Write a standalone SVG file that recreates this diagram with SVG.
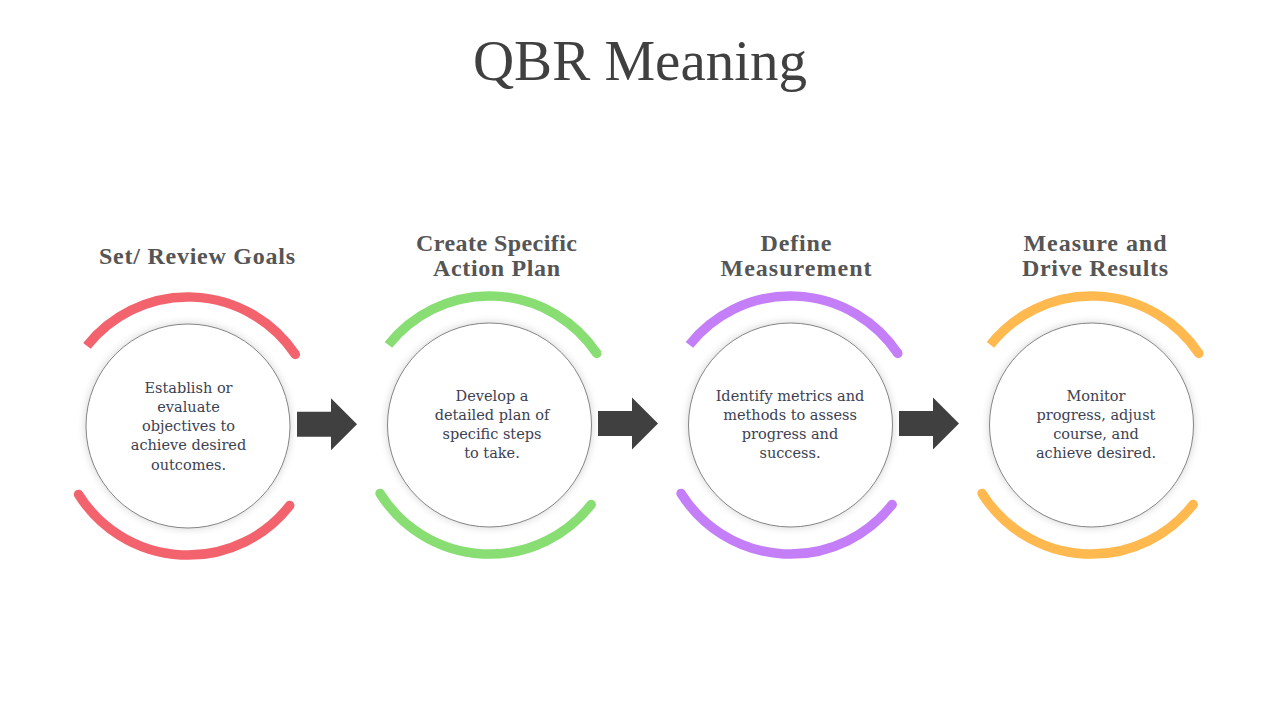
<svg xmlns="http://www.w3.org/2000/svg" width="1280" height="720" viewBox="0 0 1280 720">
  <defs>
    <filter id="glow" x="-20%" y="-20%" width="140%" height="140%">
      <feGaussianBlur in="SourceAlpha" stdDeviation="4"/>
      <feComponentTransfer><feFuncA type="linear" slope="0.18"/></feComponentTransfer>
      <feMerge><feMergeNode/><feMergeNode in="SourceGraphic"/></feMerge>
    </filter>
    <style>
      .title{font-family:"Liberation Serif",serif;font-size:57px;fill:#404040;text-anchor:middle}
      .head{font-family:"Liberation Serif",serif;font-size:24px;font-weight:bold;fill:#555555;text-anchor:middle}
      .body{font-family:"DejaVu Serif",serif;font-size:14.5px;fill:#3d4152;text-anchor:middle}
      .disc{fill:#ffffff;stroke:#666666;stroke-width:0.8;filter:url(#glow)}
      .top{fill:none;stroke-width:9.5;stroke-linecap:butt}
      .bot{fill:none;stroke-width:9.5;stroke-linecap:round}
      .arrow{fill:#404040}
    </style>
  </defs>
  <rect width="1280" height="720" fill="#ffffff"/>
  <text class="title" x="640" y="80">QBR Meaning</text>

  <g id="node1">
    <text class="head" x="197" y="264" textLength="196" lengthAdjust="spacing">Set/ Review Goals</text>
    <g transform="translate(188,426)">
      <path class="top" stroke="#F3636E" d="M -101.1,-80.1 A 129 129 0 0 1 107.3,-71.6"/>
      <circle cx="107.3" cy="-71.6" r="4.75" fill="#F3636E"/>
      <path class="bot" stroke="#F3636E" d="M 101.7,79.5 A 129 129 0 0 1 -109.4,68.4"/>
      <circle class="disc" r="102"/>
    </g>
    <text class="body" x="188.5" y="392.5">Establish or</text>
    <text class="body" x="188.5" y="411.7">evaluate</text>
    <text class="body" x="188.5" y="431">objectives to</text>
    <text class="body" x="188.5" y="450.2">achieve desired</text>
    <text class="body" x="188.5" y="469.5">outcomes.</text>
  </g>

  <g id="node2">
    <text class="head" x="496.5" y="251" textLength="161" lengthAdjust="spacing">Create Specific</text>
    <text class="head" x="496.5" y="276" textLength="127" lengthAdjust="spacing">Action Plan</text>
    <g transform="translate(489.5,425)">
      <path class="top" stroke="#88DD73" d="M -101.1,-80.1 A 129 129 0 0 1 107.3,-71.6"/>
      <circle cx="107.3" cy="-71.6" r="4.75" fill="#88DD73"/>
      <path class="bot" stroke="#88DD73" d="M 101.7,79.5 A 129 129 0 0 1 -109.4,68.4"/>
      <circle class="disc" r="102"/>
    </g>
    <text class="body" x="492" y="401">Develop a</text>
    <text class="body" x="492" y="420">detailed plan of</text>
    <text class="body" x="492" y="439">specific steps</text>
    <text class="body" x="492" y="458">to take.</text>
  </g>

  <g id="node3">
    <text class="head" x="796" y="251" textLength="71" lengthAdjust="spacing">Define</text>
    <text class="head" x="796" y="276" textLength="151" lengthAdjust="spacing">Measurement</text>
    <g transform="translate(790.5,425)">
      <path class="top" stroke="#C47FF8" d="M -101.1,-80.1 A 129 129 0 0 1 107.3,-71.6"/>
      <circle cx="107.3" cy="-71.6" r="4.75" fill="#C47FF8"/>
      <path class="bot" stroke="#C47FF8" d="M 101.7,79.5 A 129 129 0 0 1 -109.4,68.4"/>
      <circle class="disc" r="102"/>
    </g>
    <text class="body" x="790" y="401">Identify metrics and</text>
    <text class="body" x="790" y="420">methods to assess</text>
    <text class="body" x="790" y="439">progress and</text>
    <text class="body" x="790" y="458">success.</text>
  </g>

  <g id="node4">
    <text class="head" x="1095" y="251" textLength="143" lengthAdjust="spacing">Measure and</text>
    <text class="head" x="1095" y="276" textLength="146" lengthAdjust="spacing">Drive Results</text>
    <g transform="translate(1091.5,425)">
      <path class="top" stroke="#FFB94F" d="M -101.1,-80.1 A 129 129 0 0 1 107.3,-71.6"/>
      <circle cx="107.3" cy="-71.6" r="4.75" fill="#FFB94F"/>
      <path class="bot" stroke="#FFB94F" d="M 101.7,79.5 A 129 129 0 0 1 -109.4,68.4"/>
      <circle class="disc" r="102"/>
    </g>
    <text class="body" x="1096" y="401">Monitor</text>
    <text class="body" x="1096" y="420">progress, adjust</text>
    <text class="body" x="1096" y="439">course, and</text>
    <text class="body" x="1096" y="458">achieve desired.</text>
  </g>

  <g id="connectors">
    <polygon class="arrow" transform="translate(297,424.3)" points="0,-12.5 34,-12.5 34,-26 60,0 34,26 34,12.5 0,12.5"/>
    <polygon class="arrow" transform="translate(598,423.5)" points="0,-12.5 34,-12.5 34,-26 60,0 34,26 34,12.5 0,12.5"/>
    <polygon class="arrow" transform="translate(899,423.5)" points="0,-12.5 34,-12.5 34,-26 60,0 34,26 34,12.5 0,12.5"/>
  </g>
</svg>
